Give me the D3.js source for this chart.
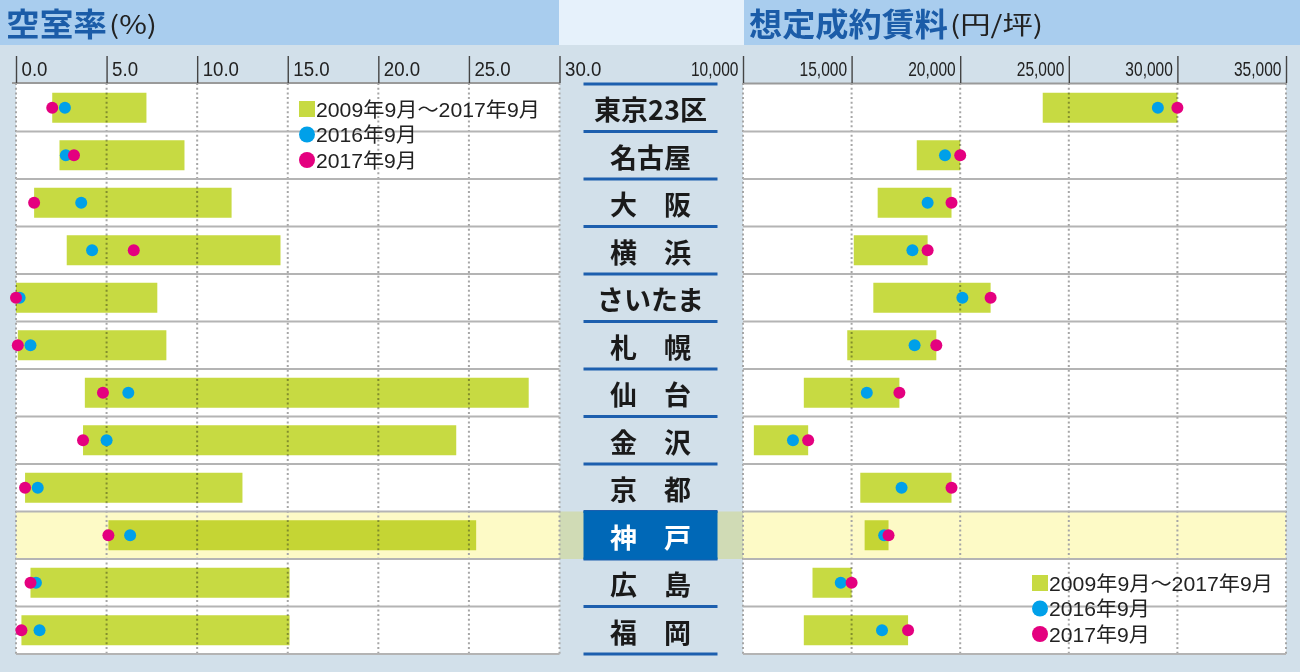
<!DOCTYPE html>
<html><head><meta charset="utf-8">
<script src="https://cdn.jsdelivr.net/npm/d3@7"></script>
<style>
html,body{margin:0;padding:0;background:#d2e0ea;}
svg{display:block;}
</style></head>
<body>
<svg id="chart" width="1300" height="672"></svg>
<script>
// ---------------- data ----------------
const cities = ["東京23区","名古屋","大阪","横浜","さいたま","札幌","仙台","金沢","京都","神戸","広島","福岡"];
const cityLabels = ["東京23区","名古屋","大　阪","横　浜","さいたま","札　幌","仙　台","金　沢","京　都","神　戸","広　島","福　岡"];
const highlightCity = "神戸";

// 空室率 (%) : range 2009/9–2017/9, 2016/9, 2017/9
const vacMin  = [2.0, 2.4, 1.0, 2.8, 0.0, 0.1, 3.8, 3.7, 0.5, 5.1, 0.8, 0.3];
const vacMax  = [7.2, 9.3, 11.9, 14.6, 7.8, 8.3, 28.3, 24.3, 12.5, 25.4, 15.1, 15.1];
const vac2016 = [2.7, 2.75, 3.6, 4.2, 0.2, 0.8, 6.2, 5.0, 1.2, 6.3, 1.1, 1.3];
const vac2017 = [2.0, 3.2, 1.0, 6.5, 0.0, 0.1, 4.8, 3.7, 0.5, 5.1, 0.8, 0.3];

// 想定成約賃料 (円/坪)
const rentMin  = [23800, 18000, 16200, 15100, 16000, 14800, 12800, 10500, 15400, 15600, 13200, 12800];
const rentMax  = [30000, 20000, 19600, 18500, 21400, 18900, 17200, 13000, 19600, 16700, 15000, 17600];
const rent2016 = [29100, 19300, 18500, 17800, 20100, 17900, 15700, 12300, 17300, 16500, 14500, 16400];
const rent2017 = [30000, 20000, 19600, 18500, 21400, 18900, 17200, 13000, 19600, 16700, 15000, 17600];

const vacTicks  = [0, 5, 10, 15, 20, 25, 30];
const rentTicks = [10000, 15000, 20000, 25000, 30000, 35000];
const vacTickLabels  = ["0.0","5.0","10.0","15.0","20.0","25.0","30.0"];
const rentTickLabels = ["10,000","15,000","20,000","25,000","30,000","35,000"];

const titleLeft = "空室率", titleLeftUnit = "(%)";
const titleRight = "想定成約賃料", titleRightUnit = "(円/坪)";
const legendLabels = ["2009年9月～2017年9月","2016年9月","2017年9月"];

// ---------------- style ----------------
const C = {
  bg:"#d2e0ea", header:"#a9cdee", headerMid:"#e6f1fb", title:"#1b5ca8",
  bar:"#c7da42", blue:"#00a0e9", pink:"#e4007f", grid:"#a6a6a6",
  row:"#b4b4b4", seg:"#1d5fae", hl:"#fdfac6", box:"#0068b7", text:"#222"
};
const FONT = "'Liberation Sans','Noto Sans CJK JP',sans-serif";
const JFONT = "'Noto Sans CJK JP','Noto Sans',sans-serif";

const svg = d3.select("#chart");
const W = 1300, H = 672;
const topY = 84, bottomY = 654, axisY = 83;

const xL = d3.scaleLinear().domain([0, 30]).range([16, 559.5]);
const xR = d3.scaleLinear().domain([10000, 35000]).range([743, 1286]);
const y = d3.scaleBand().domain(cities).range([topY, bottomY]).padding(0);
const barH = 30;

// background
svg.append("rect").attr("width", W).attr("height", H).attr("fill", C.bg);

// header bands
svg.append("rect").attr("x",0).attr("y",0).attr("width",559).attr("height",45).attr("fill",C.header);
svg.append("rect").attr("x",559).attr("y",0).attr("width",185).attr("height",45).attr("fill",C.headerMid);
svg.append("rect").attr("x",744).attr("y",0).attr("width",W-744).attr("height",45).attr("fill",C.header);

function title(x, main, mainW, unit, unitX, unitW){
  svg.append("text").attr("x", x).attr("y", 36).attr("font-family", JFONT)
    .attr("font-size", 32).attr("font-weight", 700).attr("fill", C.title)
    .attr("textLength", mainW).attr("lengthAdjust","spacingAndGlyphs").text(main);
  svg.append("text").attr("x", unitX).attr("y", 34).attr("font-family", JFONT)
    .attr("font-size", 25).attr("font-weight", 400).attr("fill", C.text)
    .attr("textLength", unitW).attr("lengthAdjust","spacingAndGlyphs").text(unit);
}
title(6, titleLeft, 101, titleLeftUnit, 109, 48);
title(749, titleRight, 199, titleRightUnit, 950, 93);

// plot areas
svg.append("rect").attr("x", xL(0)).attr("y", topY).attr("width", xL(30)-xL(0)).attr("height", bottomY-topY).attr("fill","#fff");
svg.append("rect").attr("x", xR(10000)).attr("y", topY).attr("width", xR(35000)-xR(10000)).attr("height", bottomY-topY).attr("fill","#fff");

// highlight row
svg.append("rect")
  .attr("x", xL(0)).attr("y", y(highlightCity))
  .attr("width", xR(35000)-xL(0)).attr("height", y.bandwidth())
  .attr("fill", C.hl).style("mix-blend-mode","multiply");

// grid lines
svg.append("g").selectAll("line").data(vacTicks).join("line")
  .attr("x1", d=>xL(d)).attr("x2", d=>xL(d)).attr("y1", axisY).attr("y2", bottomY)
  .attr("stroke", C.grid).attr("stroke-width", 2).attr("stroke-dasharray","2,2.7");
svg.append("g").selectAll("line").data(rentTicks).join("line")
  .attr("x1", d=>xR(d)).attr("x2", d=>xR(d)).attr("y1", axisY).attr("y2", bottomY)
  .attr("stroke", C.grid).attr("stroke-width", 2).attr("stroke-dasharray","2,2.7");

// row separators
const bounds = d3.range(1, cities.length+1).map(i => topY + i*y.step());
const rowG = svg.append("g");
bounds.forEach(b=>{
  rowG.append("line").attr("x1", xL(0)).attr("x2", xL(30)).attr("y1", b).attr("y2", b).attr("stroke", C.row).attr("stroke-width", 2);
  rowG.append("line").attr("x1", xR(10000)).attr("x2", xR(35000)).attr("y1", b).attr("y2", b).attr("stroke", C.row).attr("stroke-width", 2);
});
[topY].concat(bounds).forEach(b=>{
  rowG.append("line").attr("x1", 583.5).attr("x2", 717.5).attr("y1", b).attr("y2", b).attr("stroke", C.seg).attr("stroke-width", 3);
});

// axes
const axL = d3.axisTop(xL).tickValues(vacTicks).tickSize(27).tickSizeOuter(0)
  .tickFormat((d,i)=>vacTickLabels[i]);
const gL = svg.append("g").attr("transform", `translate(0,${axisY})`).call(axL);
const axR = d3.axisTop(xR).tickValues(rentTicks).tickSize(27).tickSizeOuter(0)
  .tickFormat((d,i)=>rentTickLabels[i]);
const gR = svg.append("g").attr("transform", `translate(0,${axisY})`).call(axR);
[gL, gR].forEach(g=>{
  g.select(".domain").attr("stroke", "#9a9a9a").attr("stroke-width", 2);
  g.selectAll(".tick line").attr("stroke", "#444").attr("stroke-width", 1.4);
  g.selectAll(".tick text").attr("font-family", FONT).attr("font-size", 21).attr("fill", C.text)
    .attr("y", 0).attr("dy", 0);
});
gL.select(".domain").attr("d", `M12,0H${xL(30)}`);
gL.selectAll(".tick text").attr("text-anchor","start").attr("transform","translate(5,-7) scale(0.89,1)");
gR.selectAll(".tick text").attr("text-anchor","end").attr("transform","translate(-5,-7) scale(0.74,1)");

// bars
const idx = d3.range(cities.length);
const cy = i => y(cities[i]) + y.bandwidth()/2;
svg.append("g").selectAll("rect").data(idx).join("rect")
  .attr("x", i=>xL(vacMin[i])).attr("width", i=>xL(vacMax[i])-xL(vacMin[i]))
  .attr("y", i=>cy(i)-barH/2).attr("height", barH)
  .attr("fill", C.bar).style("mix-blend-mode","multiply");
svg.append("g").selectAll("rect").data(idx).join("rect")
  .attr("x", i=>xR(rentMin[i])).attr("width", i=>xR(rentMax[i])-xR(rentMin[i]))
  .attr("y", i=>cy(i)-barH/2).attr("height", barH)
  .attr("fill", C.bar).style("mix-blend-mode","multiply");

// dots
const r = 6;
svg.append("g").selectAll("circle").data(idx).join("circle")
  .attr("cx", i=>xL(vac2016[i])).attr("cy", cy).attr("r", r).attr("fill", C.blue);
svg.append("g").selectAll("circle").data(idx).join("circle")
  .attr("cx", i=>xL(vac2017[i])).attr("cy", cy).attr("r", r).attr("fill", C.pink);
svg.append("g").selectAll("circle").data(idx).join("circle")
  .attr("cx", i=>xR(rent2016[i])).attr("cy", cy).attr("r", r).attr("fill", C.blue);
svg.append("g").selectAll("circle").data(idx).join("circle")
  .attr("cx", i=>xR(rent2017[i])).attr("cy", cy).attr("r", r).attr("fill", C.pink);

// center labels
svg.append("rect").attr("x", 583.5).attr("y", y(highlightCity)-0.5).attr("width", 134).attr("height", y.bandwidth()+1).attr("fill", C.box);
svg.append("g").selectAll("text").data(idx).join("text")
  .attr("x", 650.5).attr("y", i=>cy(i)+1)
  .attr("text-anchor","middle").attr("dominant-baseline","central")
  .attr("font-family", JFONT).attr("font-weight", 700).attr("font-size", 27)
  .attr("fill", i=>cities[i]===highlightCity ? "#fff" : "#1a1a1a")
  .text(i=>cityLabels[i]);

// legends
function legend(x, y0){
  const g = svg.append("g");
  const lh = 25.5;
  g.append("rect").attr("x", x).attr("y", y0-8).attr("width", 16).attr("height", 16).attr("fill", C.bar);
  g.append("circle").attr("cx", x+8).attr("cy", y0+lh).attr("r", 8).attr("fill", C.blue);
  g.append("circle").attr("cx", x+8).attr("cy", y0+2*lh).attr("r", 8).attr("fill", C.pink);
  const widths = [224, 101, 101];
  legendLabels.forEach((t,i)=>{
    g.append("text").attr("x", x+17).attr("y", y0 + i*lh + 7.5)
      .attr("font-family", FONT).attr("font-size", 20).attr("fill", C.text)
      .attr("textLength", widths[i]).attr("lengthAdjust","spacingAndGlyphs")
      .text(t);
  });
}
legend(299, 109);
legend(1032, 583);
</script>
</body></html>
